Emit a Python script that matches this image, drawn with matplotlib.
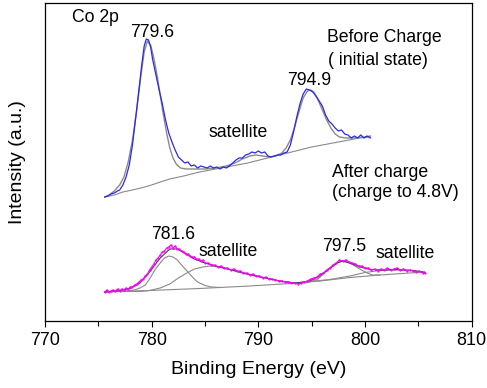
## Co 2p XPS spectra before and after charging
import numpy as np
import matplotlib.pyplot as plt

plt.rcParams['font.family'] = ['Liberation Sans', 'DejaVu Sans']

# top spectrum: before charge (initial state), measured data
before_ev = [775.6, 775.9, 776.2, 776.5, 776.8, 777.0, 777.3, 777.6, 777.9, 778.2, 778.5, 778.8, 779.1, 779.3,
             779.5, 779.7, 779.9, 780.1, 780.4, 780.7, 781.0, 781.3, 781.6, 781.9, 782.2, 782.5, 782.8, 783.1,
             783.4, 783.7, 784.0, 784.3, 784.6, 784.9, 785.2, 785.5, 785.8, 786.1, 786.4, 786.7, 787.0, 787.3,
             787.6, 787.9, 788.2, 788.5, 788.8, 789.1, 789.4, 789.7, 790.0, 790.3, 790.6, 790.9, 791.2, 791.5,
             791.8, 792.1, 792.4, 792.7, 793.0, 793.3, 793.6, 793.9, 794.2, 794.5, 794.8, 795.1, 795.4, 795.7,
             796.0, 796.3, 796.6, 796.9, 797.2, 797.5, 797.8, 798.1, 798.4, 798.7, 799.0, 799.3, 799.6, 799.9,
             800.2, 800.5]
before_int = [124, 125, 127, 128, 130, 131, 136, 144, 156, 176, 203, 231, 259, 275,
              282, 281, 274, 261, 246, 231, 217, 201, 188, 179, 171, 164, 161, 158,
              159, 155, 156, 153, 155, 154, 153, 155, 153, 154, 152, 154, 153, 155,
              158, 161, 163, 163, 166, 167, 169, 168, 170, 168, 169, 165, 164, 165,
              166, 166, 168, 169, 176, 189, 204, 217, 227, 232, 231, 229, 225, 220,
              215, 206, 200, 197, 193, 190, 191, 187, 186, 183, 185, 183, 186, 183,
              185, 183]

# top spectrum fit envelope and background
before_fit_ev = [775.6, 776.0, 776.5, 777.0, 777.4, 777.8, 778.2, 778.6, 779.0, 779.3, 779.6, 779.9, 780.2,
                 780.5, 780.8, 781.1, 781.4, 781.7, 782.0, 782.3, 782.7, 783.2, 784.0, 785.0, 786.0, 787.0,
                 787.8, 788.5, 789.2, 789.8, 790.4, 791.0, 791.6, 792.2, 792.6, 793.0, 793.4, 793.8, 794.2,
                 794.6, 794.9, 795.2, 795.6, 796.0, 796.4, 796.8, 797.2, 797.6, 798.2, 799.0, 800.0, 800.5]
before_fit = [124, 126, 130, 136, 144, 159, 181, 211, 246, 269, 280, 276, 263,
              246, 226, 206, 188, 173, 163, 157, 153, 152, 152, 152, 153, 155,
              158, 162, 165, 166, 165, 164, 165, 168, 173, 181, 194, 209, 223,
              230, 231, 229, 221, 211, 201, 193, 187, 184, 183, 183, 184, 185]
before_bg_ev = [775.6, 776.5, 777.3, 778.2, 779.0, 780.0, 780.8, 781.7, 783.0, 784.5, 786.0,
                787.5, 789.0, 790.5, 792.0, 793.5, 795.0, 796.5, 798.0, 799.5, 800.5]
before_bg = [124, 126, 129, 131, 133, 136, 139, 142, 145, 149, 152,
             155, 158, 162, 166, 170, 174, 177, 180, 183, 184]

# bottom spectrum: after charge to 4.8 V, measured data
after_ev = [775.6, 775.8, 776.0, 776.2, 776.4, 776.6, 776.8, 777.0, 777.2, 777.4, 777.6, 777.8, 778.0, 778.2,
            778.4, 778.6, 778.8, 779.0, 779.2, 779.4, 779.6, 779.8, 780.0, 780.2, 780.4, 780.6, 780.8, 781.0,
            781.2, 781.4, 781.6, 781.8, 782.0, 782.2, 782.4, 782.6, 782.8, 783.0, 783.2, 783.4, 783.6, 783.8,
            784.0, 784.2, 784.4, 784.6, 784.8, 785.0, 785.3, 785.6, 785.9, 786.2, 786.5, 786.8, 787.1, 787.4,
            787.7, 788.0, 788.3, 788.6, 788.9, 789.2, 789.5, 789.8, 790.1, 790.4, 790.7, 791.0, 791.3, 791.6,
            791.9, 792.2, 792.5, 792.8, 793.1, 793.4, 793.7, 794.0, 794.3, 794.6, 794.9, 795.2, 795.5, 795.8,
            796.1, 796.4, 796.7, 797.0, 797.3, 797.6, 797.9, 798.2, 798.5, 798.8, 799.1, 799.4, 799.7, 800.0,
            800.3, 800.6, 800.9, 801.2, 801.5, 801.8, 802.1, 802.4, 802.7, 803.0, 803.3, 803.6, 803.9, 804.2,
            804.5, 804.8, 805.1, 805.4, 805.6]
after_int = [29, 31, 29, 30, 31, 30, 32, 30, 32, 31, 33, 32, 34, 34,
             36, 37, 39, 41, 42, 45, 47, 51, 54, 57, 61, 63, 66, 69,
             70, 73, 74, 76, 73, 75, 72, 72, 70, 69, 67, 67, 65, 64,
             64, 62, 62, 60, 61, 58, 58, 56, 56, 54, 55, 53, 53, 51,
             52, 50, 50, 48, 48, 46, 47, 45, 45, 43, 44, 42, 42, 41,
             40, 40, 39, 39, 38, 38, 37, 38, 39, 40, 42, 43, 44, 47,
             48, 51, 53, 56, 58, 61, 60, 61, 59, 58, 57, 55, 55, 53,
             53, 51, 52, 50, 52, 51, 53, 51, 52, 53, 51, 52, 50, 51,
             50, 49, 50, 48, 48]

# bottom spectrum fit: envelope, components and background
after_fit_ev = [775.6, 777.0, 778.0, 778.9, 779.8, 780.8, 781.7, 782.4, 783.2, 784.0, 785.0, 786.0, 787.5,
                789.0, 790.5, 792.0, 793.5, 794.8, 795.6, 796.5, 797.4, 797.9, 798.6, 799.5, 800.5, 801.5,
                803.0, 804.5, 805.6]
after_fit = [29, 30.5, 32.5, 38, 49, 63, 72, 72, 67, 62, 58, 55, 51,
             47, 43.5, 40, 38, 40, 44, 51, 58, 60, 58, 54, 51.5, 51,
             51.5, 50.5, 48.5]
peak1_ev = [775.6, 777.5, 778.4, 778.9, 779.4, 779.8, 780.3, 780.8, 781.2, 781.6, 782.0, 782.4, 782.8,
            783.4, 783.9, 784.3, 785.0, 785.6, 786.4]
peak1 = [29, 30, 31, 33, 36, 42, 51, 58, 63, 65, 64, 61, 56,
         49, 43, 39, 35.5, 34, 33.5]
sat1_ev = [777.0, 778.9, 779.8, 780.8, 781.7, 782.5, 783.3, 784.0, 784.8, 785.5, 786.3, 787.3, 788.3,
           789.2, 790.1, 791.1, 792.0, 793.0, 793.9]
sat1 = [29.5, 29.5, 30.5, 33, 37, 43, 48, 52, 54, 55, 54, 51.5, 48.5,
        46, 44, 42, 40, 38.5, 37.5]
peak2_ev = [793.9, 794.8, 795.6, 796.2, 796.9, 797.4, 797.8, 798.3, 798.9, 799.5, 800.2, 800.7, 801.4]
peak2 = [37.5, 39, 42, 48, 55, 58.5, 60, 59, 56, 52, 48, 46, 46]
sat2_ev = [794.8, 796.7, 798.6, 800.0, 801.4, 802.8, 804.2, 805.6]
sat2 = [39.5, 41.5, 45, 48.5, 50.5, 51, 50.5, 49]
after_bg_ev = [775.6, 779.8, 784.5, 789.2, 793.0, 795.8, 798.6, 801.4, 805.6]
after_bg = [29, 30.5, 32.5, 35, 37.5, 40, 43.5, 46, 49]

# peak labels
peak_labels = ['779.6', '794.9', '781.6', '797.5']
peak_label_ev = [780.0, 794.8, 782.0, 798.0]
peak_label_int = [288.5, 240.5, 86, 74]
sat_label_ev = [788.1, 787.2, 803.8]
sat_label_int = [188, 69, 67]

fig = plt.figure(figsize = (4.87, 3.88), dpi = 100)
ax = fig.add_axes([0.0924, 0.1727, 0.8762, 0.8196])

gray = '#8a8a8a'
ax.plot(before_bg_ev, before_bg, color = gray, lw = 0.8)
ax.plot(before_fit_ev, before_fit, color = gray, lw = 1.0)
ax.plot(before_ev, before_int, color = '#2a2ae6', lw = 0.9)

ax.plot(after_bg_ev, after_bg, color = gray, lw = 0.8)
ax.plot(peak1_ev, peak1, color = gray, lw = 0.8)
ax.plot(sat1_ev, sat1, color = gray, lw = 0.8)
ax.plot(peak2_ev, peak2, color = gray, lw = 0.8)
ax.plot(sat2_ev, sat2, color = gray, lw = 0.8)
ax.plot(after_fit_ev, after_fit, color = '#404040', lw = 0.8)
ax.plot(after_ev, after_int, color = '#ff00ff', lw = 0.8, marker = '.', ms = 1.2)

fs = 12.7
for lab, x, y in zip(peak_labels, peak_label_ev, peak_label_int):
    ax.text(x, y, lab, ha = 'center', va = 'center', fontsize = fs)
for x, y in zip(sat_label_ev, sat_label_int):
    ax.text(x, y, 'satellite', ha = 'center', va = 'center', fontsize = fs)

ax.text(0.063, 0.953, 'Co 2p', transform = ax.transAxes, va = 'center', fontsize = fs)
ax.text(0.661, 0.892, 'Before Charge', transform = ax.transAxes, va = 'center', fontsize = fs)
ax.text(0.663, 0.819, '( initial state)', transform = ax.transAxes, va = 'center', fontsize = fs)
ax.text(0.673, 0.467, 'After charge', transform = ax.transAxes, va = 'center', fontsize = fs)
ax.text(0.673, 0.403, '(charge to 4.8V)', transform = ax.transAxes, va = 'center', fontsize = fs)

ax.set_xlim(770, 810)
ax.set_ylim(0, 318)
ax.set_xticks(np.arange(770, 811, 10))
ax.set_xticks(np.arange(775, 810, 10), minor = True)
ax.set_yticks([])
ax.tick_params(axis = 'x', which = 'major', direction = 'out', length = 4, width = 0.8, pad = 4, labelsize = 13)
ax.tick_params(axis = 'x', which = 'minor', direction = 'out', length = 3.5, width = 0.8)

ax.set_xlabel('Binding Energy (eV)', fontsize = 14)
ax.set_ylabel('Intensity (a.u.)', fontsize = 14)
ax.xaxis.set_label_coords(0.5, -0.125)
ax.yaxis.set_label_coords(-0.045, 0.5)

for s in ax.spines.values():
    s.set_linewidth(0.9)

fig.savefig('out.png', dpi = 100)
